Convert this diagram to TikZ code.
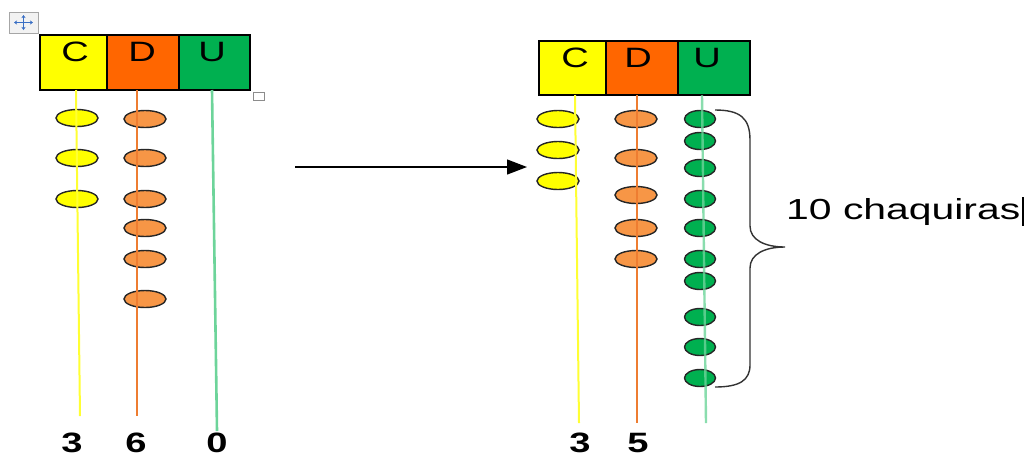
\documentclass[tikz,border=0pt]{standalone}
\usepackage{fontspec}
\setmainfont{Liberation Sans}
\usetikzlibrary{shapes.geometric,arrows.meta}

\definecolor{cellyel}{HTML}{FFFF00}
\definecolor{cellorg}{HTML}{FF6600}
\definecolor{cellgrn}{HTML}{00B050}
\definecolor{beadyel}{HTML}{FFFF00}
\definecolor{beadorg}{HTML}{F79646}
\definecolor{beadgrn}{HTML}{00B050}
\definecolor{rodyel}{HTML}{FFFF33}
\definecolor{rodorg}{HTML}{EE7D31}
\definecolor{rodgrn}{HTML}{6DD49A}
\definecolor{handleblue}{HTML}{3A6FC4}

% horizontally widened text
\newcommand{\widetext}[1]{\scalebox{1.36}[1]{#1}}

\tikzset{
  cell/.style={draw=black, line width=1.3pt, inner sep=0pt},
  letter/.style={font=\fontsize{28}{28}\selectfont, inner sep=0pt, anchor=north},
  digit/.style={font=\bfseries\fontsize{28}{28}\selectfont, inner sep=0pt, anchor=north},
  bead/.style={ellipse, draw=black!85, line width=1.4pt, minimum width=42pt,
               minimum height=17pt, inner sep=0pt},
  ybead/.style={bead, fill=beadyel},
  obead/.style={bead, fill=beadorg},
  gbead/.style={bead, fill=beadgrn, minimum width=31pt},
  rod/.style={line width=2pt},
}

\begin{document}
\begin{tikzpicture}[x=1pt, y=-1pt]
\useasboundingbox (0,0) rectangle (1033,459);

% ---------- left abacus: 360 ----------
% move handle and resize square
\draw[draw=black!35, fill=black!5, line width=0.8pt] (9,12) rectangle (38,33);
\draw[handleblue, line width=1.1pt, {Stealth[length=3pt,width=4pt]}-{Stealth[length=3pt,width=4pt]}]
  (14,22.5) -- (33,22.5);
\draw[handleblue, line width=1.1pt, {Stealth[length=3pt,width=4pt]}-{Stealth[length=3pt,width=4pt]}]
  (23.5,15) -- (23.5,30);
\draw[draw=black!45, fill=white, line width=0.8pt] (253,92) rectangle (264,100);

\node[cell, fill=cellyel, minimum width=67pt, minimum height=55pt] (lc) at (73.5,62.5) {};
\node[cell, fill=cellorg, minimum width=72pt, minimum height=55pt] (ld) at (143,62.5) {};
\node[cell, fill=cellgrn, minimum width=71pt, minimum height=55pt] (lu) at (214.5,62.5) {};
\node[letter] (lcT) at (75,42) {\widetext{C}};
\node[letter] (ldT) at (142,42) {\widetext{D}};
\node[letter] (luT) at (212,42) {\widetext{U}};

\foreach \y [count=\i] in {118,158,199}
  \node[ybead] (ly\i) at (77,\y) {};
\foreach \y [count=\i] in {119,158,199,228,259,299}
  \node[obead] (lo\i) at (145,\y) {};

\coordinate (lyTop) at (76,90);   \coordinate (lyBot) at (80,416);
\coordinate (loTop) at (137,90);  \coordinate (loBot) at (137,416);
\coordinate (lgTop) at (212,90);  \coordinate (lgBot) at (217,431);
\draw[rod, rodyel] (lyTop) -- (lyBot);
\draw[rod, rodorg] (loTop) -- (loBot);
\draw[rod, rodgrn, line width=2.6pt] (lgTop) -- (lgBot);

\node[digit] (ln1) at (72,433) {\widetext{3}};
\node[digit] (ln2) at (136,433) {\widetext{6}};
\node[digit] (ln3) at (217,433) {\widetext{0}};

% ---------- arrow ----------
\coordinate (arS) at (295,167);
\coordinate (arE) at (527,167);
\draw[line width=1.3pt, -{Triangle[length=20pt,width=15pt]}] (arS) -- (arE);

% ---------- right abacus: 350 ----------
\node[cell, fill=cellyel, minimum width=67pt, minimum height=54pt] (rc) at (572.5,68) {};
\node[cell, fill=cellorg, minimum width=72pt, minimum height=54pt] (rd) at (642,68) {};
\node[cell, fill=cellgrn, minimum width=72pt, minimum height=54pt] (ru) at (714,68) {};
\node[letter] (rcT) at (575,48) {\widetext{C}};
\node[letter] (rdT) at (638,48) {\widetext{D}};
\node[letter] (ruT) at (707,48) {\widetext{U}};

\foreach \y [count=\i] in {119,150,181}
  \node[ybead] (ry\i) at (558,\y) {};
\foreach \y [count=\i] in {119,158,195,228,259}
  \node[obead] (ro\i) at (636,\y) {};
\foreach \y [count=\i] in {119,141,168,199,228,259,281,317,347,378}
  \node[gbead] (rg\i) at (700,\y) {};

\coordinate (ryTop) at (575,95);  \coordinate (ryBot) at (579,423);
\coordinate (roTop) at (637,95);  \coordinate (roBot) at (637,423);
\coordinate (rgTop) at (702,95);  \coordinate (rgBot) at (706,423);
\draw[rod, rodyel] (ryTop) -- (ryBot);
\draw[rod, rodorg] (roTop) -- (roBot);
\draw[rod, rodgrn, opacity=0.8, line width=2.4pt] (rgTop) -- (rgBot);

\node[digit] (rn1) at (580,433) {\widetext{3}};
\node[digit] (rn2) at (638,433) {\widetext{5}};

% brace around the ten green beads
\draw[black!80, line width=1.4pt]
  (715,110) .. controls (740,110) and (750,118) .. (750,140)
  -- (750,226) .. controls (750,240) and (765,247) .. (785,247)
  .. controls (765,247) and (750,254) .. (750,268)
  -- (750,365) .. controls (750,380) and (740,387) .. (715,387);

\node[font=\fontsize{29}{29}\selectfont, inner sep=0pt, anchor=base west]
  (lbl) at (786,219) {\scalebox{1.41}[1]{10 chaquiras}};
\coordinate (caretTop) at (1023,197);
\coordinate (caretBot) at (1023,226);
\draw[line width=2.5pt] (caretTop) -- (caretBot);
\end{tikzpicture}
\end{document}
